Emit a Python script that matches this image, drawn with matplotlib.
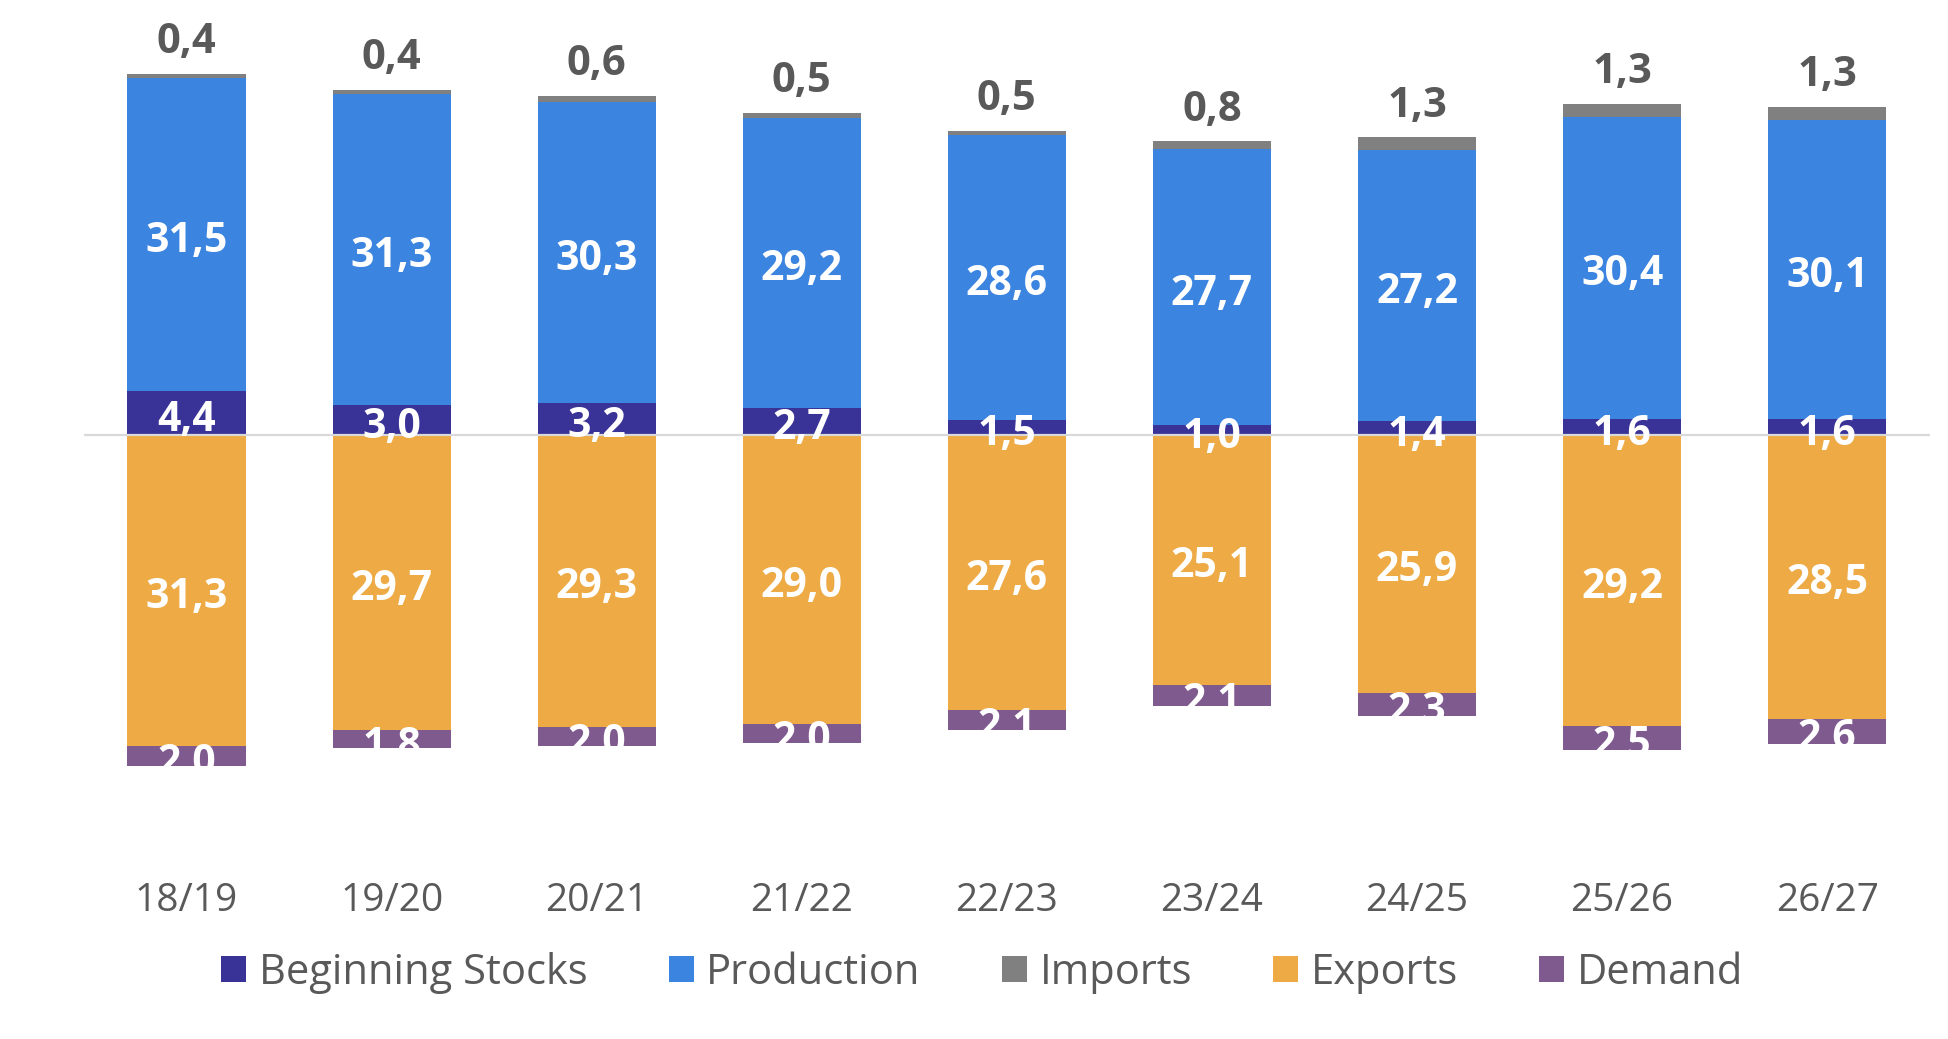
import matplotlib
matplotlib.use("Agg")
import matplotlib.pyplot as plt
from matplotlib.patches import Patch
import numpy as np

categories = ["18/19", "19/20", "20/21", "21/22", "22/23", "23/24", "24/25", "25/26", "26/27"]
beginning_stocks = [4.4, 3.0, 3.2, 2.7, 1.5, 1.0, 1.4, 1.6, 1.6]
production = [31.5, 31.3, 30.3, 29.2, 28.6, 27.7, 27.2, 30.4, 30.1]
imports = [0.4, 0.4, 0.6, 0.5, 0.5, 0.8, 1.3, 1.3, 1.3]
exports = [31.3, 29.7, 29.3, 29.0, 27.6, 25.1, 25.9, 29.2, 28.5]
demand = [2.0, 1.8, 2.0, 2.0, 2.1, 2.1, 2.3, 2.5, 2.6]

series_names = ["Beginning Stocks", "Production", "Imports", "Exports", "Demand"]
colors = {
    "Beginning Stocks": "#3A3397",
    "Production": "#3B84DF",
    "Imports": "#808080",
    "Exports": "#EDAA45",
    "Demand": "#7F5A8F",
}

FONT = ["Open Sans", "DejaVu Sans"]
plt.rcParams["font.family"] = FONT

W, H, DPI = 1949, 1039, 100
fig = plt.figure(figsize=(W / DPI, H / DPI), dpi=DPI)
ax = fig.add_axes([0.0431, 0.1983, 0.947, 0.7661])

x = np.arange(len(categories))
bw = 0.576

bs = np.array(beginning_stocks)
pr = np.array(production)
im = np.array(imports)
ex = -np.array(exports)
de = -np.array(demand)

ax.bar(x, bs, bw, color=colors["Beginning Stocks"], zorder=2)
ax.bar(x, pr, bw, bottom=bs, color=colors["Production"], zorder=2)
ax.bar(x, im, bw, bottom=bs + pr, color=colors["Imports"], zorder=2)
ax.bar(x, ex, bw, color=colors["Exports"], zorder=2)
ax.bar(x, de, bw, bottom=ex, color=colors["Demand"], zorder=2)

ax.axhline(0, color="#D9D9D9", lw=1.6, zorder=3)

def fmt(v):
    return f"{v:.1f}".replace(".", ",")

lab_kw = dict(color="white", fontsize=29.5, fontweight="bold", ha="center",
              va="center_baseline", zorder=5, textcoords="offset points",
              xytext=(0, -1.5))
for i in range(len(categories)):
    ax.annotate(fmt(beginning_stocks[i]), (x[i], bs[i] / 2), **lab_kw)
    ax.annotate(fmt(production[i]), (x[i], bs[i] + pr[i] / 2), **lab_kw)
    ax.annotate(fmt(exports[i]), (x[i], ex[i] / 2), **lab_kw)
    ax.annotate(fmt(demand[i]), (x[i], ex[i] + de[i] / 2), **lab_kw)
    ax.annotate(fmt(imports[i]), (x[i], bs[i] + pr[i] + im[i]),
                xytext=(0, 15), textcoords="offset points",
                ha="center", va="baseline", color="#595959",
                fontsize=30, fontweight="bold", zorder=5)

ax.set_xlim(-0.5, len(categories) - 0.5)
ax.set_ylim(-40, 40)
ax.set_yticks([])
ax.set_xticks(x)
ax.set_xticklabels(categories, fontsize=28, color="#595959")
ax.tick_params(axis="x", length=0, pad=35)
for s in ax.spines.values():
    s.set_visible(False)

handles = [Patch(facecolor=colors[n], edgecolor="none", label=n) for n in series_names]
leg = fig.legend(handles=handles, loc="center", bbox_to_anchor=(0.504, 0.064),
                 ncol=5, frameon=False, fontsize=30,
                 handlelength=0.6, handleheight=0.6, handletextpad=0.3,
                 columnspacing=1.95, borderaxespad=0, borderpad=0)
for t in leg.get_texts():
    t.set_color("#595959")

fig.savefig("out.png", dpi=DPI)
